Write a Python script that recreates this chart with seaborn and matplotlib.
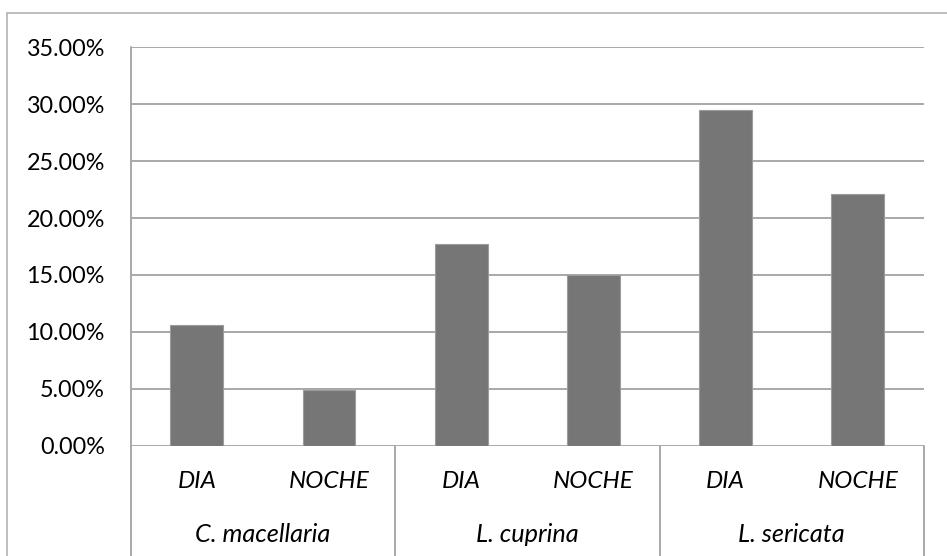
import matplotlib
matplotlib.use("Agg")
import matplotlib.pyplot as plt
from matplotlib.lines import Line2D
import matplotlib.transforms as mtransforms
import seaborn as sns
import pandas as pd

# Porcentaje de capturas por especie y periodo
especies = ["C. macellaria", "L. cuprina", "L. sericata"]
periodos = ["DIA", "NOCHE"]
valores = [10.6, 4.85, 17.7, 15.0, 29.5, 22.1]
y_ticks = [0, 5, 10, 15, 20, 25, 30, 35]

filas = []
k = 0
for esp in especies:
    for per in periodos:
        filas.append({"clave": f"{esp}|{per}", "especie": esp, "periodo": per, "valor": valores[k]})
        k += 1
df = pd.DataFrame(filas)

sns.set_style("white")
plt.rcParams["font.family"] = ["Lato", "DejaVu Sans"]

GRID = "#a8a8a8"
BAR = "#767676"
FS_Y = 16.8
FS_X = 17.5
FS_G = 18.2

fig = plt.figure(figsize=(9.47, 5.56), dpi=100)
ax = fig.add_axes([0.138, 0.1984, 0.8377, 0.7165])

sns.barplot(data=df, x="clave", y="valor", order=list(df["clave"]),
            color=BAR, width=0.4, edgecolor="#9c9c9c", linewidth=0.8,
            saturation=1, ax=ax, zorder=3)

ax.set_xlim(-0.5, len(valores) - 0.5)
ax.set_ylim(0, 35)
ax.set_yticks(y_ticks)
ax.set_yticklabels([f"{v:.2f}%" for v in y_ticks], fontsize=FS_Y, color="black")
ax.tick_params(axis="y", length=0, pad=18.5)
ax.set_xticks([])
ax.set_xlabel("")
ax.set_ylabel("")

for s in ["top", "right", "bottom", "left"]:
    ax.spines[s].set_visible(False)

for v in y_ticks:
    ax.axhline(v, color=GRID, lw=1.4, zorder=1)

# Eje de categorías en dos niveles
trans = mtransforms.blended_transform_factory(ax.transData, ax.transAxes)
fondo = -0.28
ax.add_line(Line2D([-0.5, -0.5], [1.0, fondo], transform=trans, color=GRID,
                   lw=1.4, clip_on=False))
for g in range(len(especies)):
    xr = g * 2 + 1.5
    ax.add_line(Line2D([xr, xr], [0, fondo], transform=trans, color=GRID,
                       lw=1.4, clip_on=False))

for i, per in enumerate(df["periodo"]):
    ax.text(i, -0.091, per, transform=trans, ha="center", va="center",
            fontsize=FS_X, style="italic", color="black")
for g, esp in enumerate(especies):
    ax.text(g * 2 + 0.5, -0.222, esp, transform=trans, ha="center", va="center",
            fontsize=FS_G, style="italic", color="black")

# Marco exterior del gráfico
borde = "#b4b4b4"
fig.add_artist(Line2D([0.0071, 0.0071], [0.0, 0.976], transform=fig.transFigure,
                      color=borde, lw=1.2))
fig.add_artist(Line2D([0.0071, 1.0], [0.976, 0.976], transform=fig.transFigure,
                      color=borde, lw=1.2))

fig.savefig("out.png", dpi=100, facecolor="white")
